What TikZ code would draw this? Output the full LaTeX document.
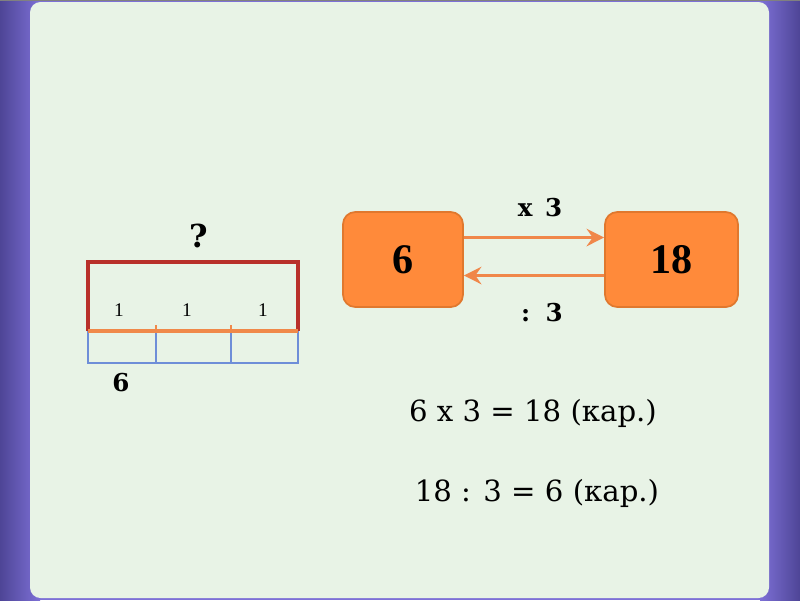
\documentclass[tikz,border=0pt]{standalone}
\usepackage{fontspec}
\setmainfont{Liberation Serif}
\newfontfamily\eqfont{DejaVu Serif}
\usetikzlibrary{arrows.meta,positioning,calc}
\definecolor{slide}{HTML}{E8F3E6}
\definecolor{frame}{HTML}{7D70D6}
\definecolor{frameedge}{HTML}{4E4596}
\definecolor{boxfill}{HTML}{FF8A3A}
\definecolor{boxline}{HTML}{E0782E}
\definecolor{arrowc}{HTML}{F0874A}
\definecolor{brace}{HTML}{B8302A}
\definecolor{seg}{HTML}{F0894A}
\definecolor{cell}{HTML}{6E8ED8}

\begin{document}
\begin{tikzpicture}[x=0.02cm,y=-0.02cm,
  numbox/.style={draw=boxline,fill=boxfill,line width=1pt,rounded corners=7pt,
    minimum width=120*0.02cm,minimum height=95*0.02cm,font=\fontsize{24}{24}\bfseries},
  opl/.style={font=\eqfont\fontsize{14}{14}\bfseries},
  unit/.style={font=\fontsize{11}{11}\selectfont},
  eqn/.style={font=\eqfont\fontsize{16.6}{16.6}\selectfont},
  ar/.style={-{Stealth[length=10pt,width=10pt,inset=3.5pt]},draw=arrowc,line width=1.8pt}
]
% background
\useasboundingbox (0,0) rectangle (800,600);
\fill[frame] (0,0) rectangle (800,600);
\fill[left color=frameedge,right color=frame] (0,0) rectangle (40,600);
\fill[left color=frame,right color=frameedge] (760,0) rectangle (800,600);
\fill[slide,rounded corners=6pt] (30,2) rectangle (769,598);
\draw[gray,line width=1pt] (0,0.5) -- (800,0.5);

% bar model
\coordinate (bl) at (88,331);
\coordinate (br) at (298,331);
\coordinate (m1) at (156,331);
\coordinate (m2) at (231,331);
\draw[cell,line width=1.6pt] (bl) -- ++(0,32) -- ($(br)+(0,32)$) -- (br);
\draw[cell,line width=1.6pt] (m1) -- ++(0,32) (m2) -- ++(0,32);
\draw[brace,line width=1.8pt] (bl) -- ++(0,-69) -- ($(br)+(0,-69)$) -- (br);
\draw[seg,line width=1.8pt] (bl) -- (br);
\draw[seg,line width=1.2pt] (m1) -- ++(0,-6) (m2) -- ++(0,-6);
\node[unit] (u1) at (119,310) {1};
\node[unit] (u2) at (187,310) {1};
\node[unit] (u3) at (263,310) {1};
\node[font=\eqfont\fontsize{18}{18}\bfseries] (q) at (199,236) {?};
\node[opl] (six) at (121,383) {6};

% scheme
\node[numbox] (a) at (403,259.5) {6};
\node[numbox,minimum width=133*0.02cm] (b) at (671.5,259.5) {18};
\draw[ar] ($(a.east)+(0,-22)$) -- ($(b.west)+(0,-22)$);
\draw[ar] ($(b.west)+(0,16)$) -- ($(a.east)+(0,16)$);
\node[opl] (mul) at (540,208) {x\, 3};
\node[opl] (dv) at (542,313) {:\, 3};

% equations
\node[eqn] (e1) at (533,413) {6 x 3 = 18 (кар.)};
\node[eqn] (e2) at (537,493) {18 : 3 = 6 (кар.)};
\end{tikzpicture}
\end{document}
